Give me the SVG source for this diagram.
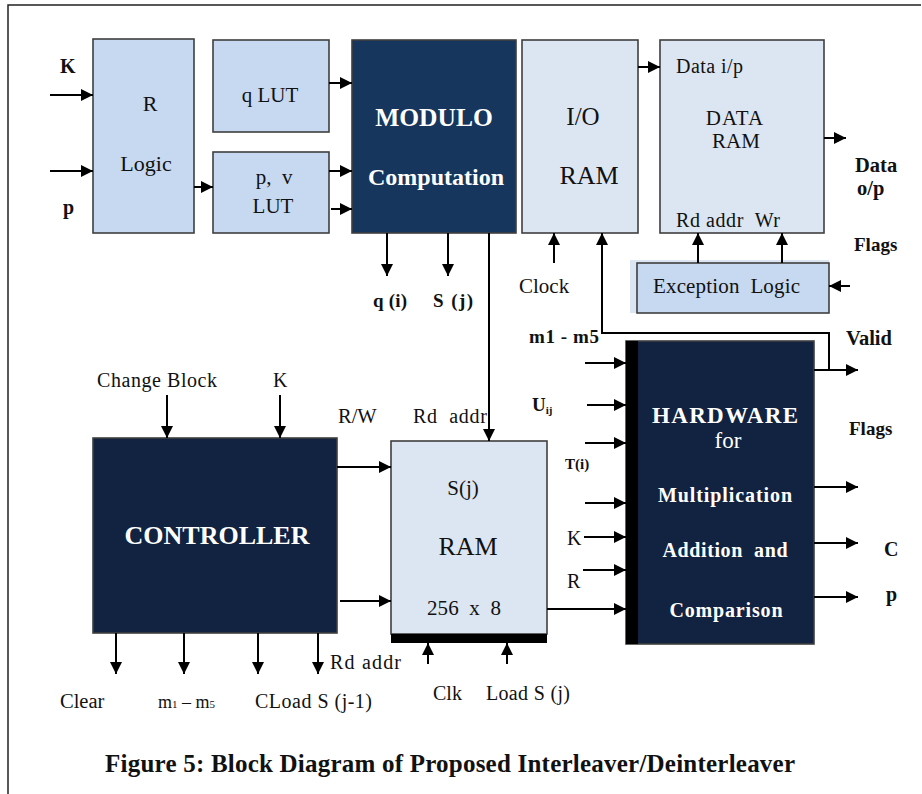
<svg xmlns="http://www.w3.org/2000/svg" width="922" height="794" viewBox="0 0 922 794" font-family="'Liberation Serif', 'DejaVu Serif', serif">
<defs>
<marker id="ah" markerUnits="userSpaceOnUse" markerWidth="12" markerHeight="12" viewBox="0 0 12 12" refX="12" refY="6" orient="auto">
<path d="M0,0 L12,6 L0,12 Z" fill="#000"/>
</marker>
</defs>
<style>
text{font-family:'Liberation Serif','DejaVu Serif',serif;fill:#111}
.lb{fill:#c6d9f1;stroke:#3f3f3f;stroke-width:1.6}
.ll{fill:#dce6f2;stroke:#3f3f3f;stroke-width:1.6}
.dk{fill:#122341;stroke:#3f3f3f;stroke-width:1.6}
.md{fill:#17365d;stroke:#3f3f3f;stroke-width:1.6}
.w{fill:#fff;font-weight:bold}
.b{font-weight:bold}
.c{text-anchor:middle}
.con line,.con path{stroke:#000;stroke-width:2;fill:none}
.a{marker-end:url(#ah)}
</style>
<rect x="0" y="0" width="922" height="794" fill="#fff"/>
<path d="M8,794 V5 H921" fill="none" stroke="#222" stroke-width="1.5"/>

<g id="rlogic"><rect class="lb" x="93" y="39" width="101" height="194"/>
<text class="c" x="150" y="111" font-size="22">R</text>
<text class="c" x="146" y="171" font-size="22">Logic</text></g>

<g id="qlut"><rect class="lb" x="213" y="40" width="116" height="92"/>
<text class="c" x="270" y="102" font-size="21">q LUT</text></g>

<g id="pvlut"><rect class="lb" x="213" y="152" width="116" height="81"/>
<text class="c" x="274" y="184" font-size="21" xml:space="preserve">p,  v</text>
<text class="c" x="273" y="213" font-size="21">LUT</text></g>

<g id="modulo"><rect class="md" x="352" y="40" width="164" height="193"/>
<text class="c w" x="434" y="126" font-size="25.5">MODULO</text>
<text class="c w" x="436" y="185" font-size="24">Computation</text></g>

<g id="ioram"><rect class="ll" x="522" y="40" width="116" height="193"/>
<text class="c" x="583" y="125" font-size="25">I/O</text>
<text class="c" x="589" y="184" font-size="26">RAM</text></g>

<g id="dataram"><rect class="ll" x="660" y="40" width="164" height="193"/>
<text x="676" y="73" font-size="20" textLength="67">Data i/p</text>
<text class="c" x="735" y="125" font-size="21" letter-spacing="1">DATA</text>
<text class="c" x="736" y="148" font-size="21">RAM</text>
<text x="676" y="227" font-size="20" textLength="104" xml:space="preserve">Rd addr  Wr</text></g>

<g id="exception"><rect x="630" y="260" width="199" height="53" fill="#dce6f2"/>
<rect class="lb" x="637" y="263" width="192" height="50"/>
<text x="653" y="293" font-size="21" textLength="147" xml:space="preserve">Exception  Logic</text></g>

<g id="controller"><rect class="dk" x="93" y="438" width="244" height="195"/>
<text class="c w" x="217" y="544" font-size="26">CONTROLLER</text></g>

<g id="sjram"><rect class="ll" x="391" y="441" width="156" height="193"/>
<rect x="391" y="634" width="156" height="9" fill="#000"/>
<text class="c" x="463" y="495" font-size="21">S(j)</text>
<text class="c" x="468" y="555" font-size="26">RAM</text>
<text class="c" x="464" y="615" font-size="21" xml:space="preserve" textLength="74">256  x  8</text></g>

<g id="hardware"><rect class="dk" x="626" y="341" width="188" height="303"/>
<rect x="626" y="341" width="12" height="303" fill="#000"/>
<text class="c w" x="725" y="423" font-size="23" textLength="146">HARDWARE</text>
<text class="c" x="728" y="448" font-size="23" style="fill:#fff">for</text>
<text class="c w" x="725" y="502" font-size="20" textLength="134">Multiplication</text>
<text class="c w" x="725" y="557" font-size="20" textLength="125" xml:space="preserve">Addition  and</text>
<text class="c w" x="726" y="617" font-size="20" textLength="113">Comparison</text></g>

<g id="connectors" class="con">
<line class="a" x1="50" y1="95" x2="93" y2="95"/>
<line class="a" x1="50" y1="171" x2="93" y2="171"/>
<line class="a" x1="194" y1="187" x2="213" y2="187"/>
<line class="a" x1="329" y1="83" x2="352" y2="83"/>
<line class="a" x1="329" y1="171" x2="352" y2="171"/>
<line class="a" x1="331" y1="209" x2="352" y2="209"/>
<line class="a" x1="387" y1="233" x2="387" y2="276"/>
<line class="a" x1="448" y1="233" x2="448" y2="276"/>
<line class="a" x1="489" y1="233" x2="489" y2="441"/>
<line class="a" x1="554" y1="263" x2="554" y2="233"/>
<path class="a" d="M829,370 V333 H602 V233"/>
<line class="a" x1="638" y1="67" x2="660" y2="67"/>
<line class="a" x1="824" y1="138" x2="846" y2="138"/>
<line class="a" x1="698" y1="263" x2="698" y2="233"/>
<line class="a" x1="782" y1="263" x2="782" y2="233"/>
<line class="a" x1="850" y1="286" x2="829" y2="286"/>
<line class="a" x1="167" y1="395" x2="167" y2="438"/>
<line class="a" x1="280" y1="395" x2="280" y2="438"/>
<line class="a" x1="337" y1="467" x2="391" y2="467"/>
<line class="a" x1="340" y1="601" x2="391" y2="601"/>
<line class="a" x1="116" y1="633" x2="116" y2="674"/>
<line class="a" x1="184" y1="633" x2="184" y2="674"/>
<line class="a" x1="258" y1="633" x2="258" y2="674"/>
<line class="a" x1="318" y1="633" x2="318" y2="674"/>
<line class="a" x1="428" y1="664" x2="428" y2="643"/>
<line class="a" x1="507" y1="664" x2="507" y2="643"/>
<line class="a" x1="547" y1="609" x2="626" y2="609"/>
<line class="a" x1="585" y1="363" x2="626" y2="363"/>
<line class="a" x1="587" y1="405" x2="626" y2="405"/>
<line class="a" x1="585" y1="443" x2="626" y2="443"/>
<line class="a" x1="585" y1="503" x2="626" y2="503"/>
<line class="a" x1="584" y1="537" x2="626" y2="537"/>
<line class="a" x1="583" y1="570" x2="626" y2="570"/>
<line class="a" x1="814" y1="370" x2="858" y2="370"/>
<line class="a" x1="814" y1="487" x2="858" y2="487"/>
<line class="a" x1="814" y1="543" x2="858" y2="543"/>
<line class="a" x1="814" y1="597" x2="858" y2="597"/>
</g>

<g id="labels">
<text class="b" x="60" y="73" font-size="20">K</text>
<text class="b" x="63" y="214" font-size="20">p</text>
<text class="b" x="373" y="307" font-size="19" textLength="34">q (i)</text>
<text class="b" x="433" y="307" font-size="19" textLength="40">S (j)</text>
<text x="519" y="293" font-size="21">Clock</text>
<text class="b" x="855" y="172" font-size="20.5">Data</text>
<text class="b" x="857" y="195" font-size="20.5">o/p</text>
<text class="b" x="854" y="251" font-size="19">Flags</text>
<text class="b" x="529" y="343" font-size="19" textLength="70">m1 - m5</text>
<text class="b" x="532" y="411" font-size="19">U<tspan font-size="11" dy="3">ij</tspan></text>
<text class="b" x="565" y="469" font-size="15">T(i)</text>
<text x="567" y="545" font-size="20">K</text>
<text x="567" y="588" font-size="20">R</text>
<text class="b" x="846" y="345" font-size="20.5">Valid</text>
<text class="b" x="849" y="435" font-size="19">Flags</text>
<text class="b" x="884" y="556" font-size="20">C</text>
<text class="b" x="886" y="601" font-size="20">p</text>
<text x="97" y="387" font-size="20" textLength="120">Change Block</text>
<text x="273" y="387" font-size="20">K</text>
<text x="338" y="423" font-size="20.5">R/W</text>
<text x="413" y="423" font-size="20" textLength="74" xml:space="preserve">Rd  addr</text>
<text x="330" y="669" font-size="20" textLength="71">Rd addr</text>
<text x="60" y="708" font-size="20.5">Clear</text>
<text x="158" y="708" font-size="18">m<tspan font-size="11">1</tspan>  – m<tspan font-size="11">5</tspan></text>
<text x="255" y="708" font-size="20" textLength="117">CLoad S (j-1)</text>
<text x="433" y="700" font-size="20">Clk</text>
<text x="486" y="700" font-size="20" textLength="84">Load S (j)</text>
<text class="b" x="105" y="772" font-size="25" textLength="690">Figure 5: Block Diagram of Proposed Interleaver/Deinterleaver</text>
</g>
</svg>
